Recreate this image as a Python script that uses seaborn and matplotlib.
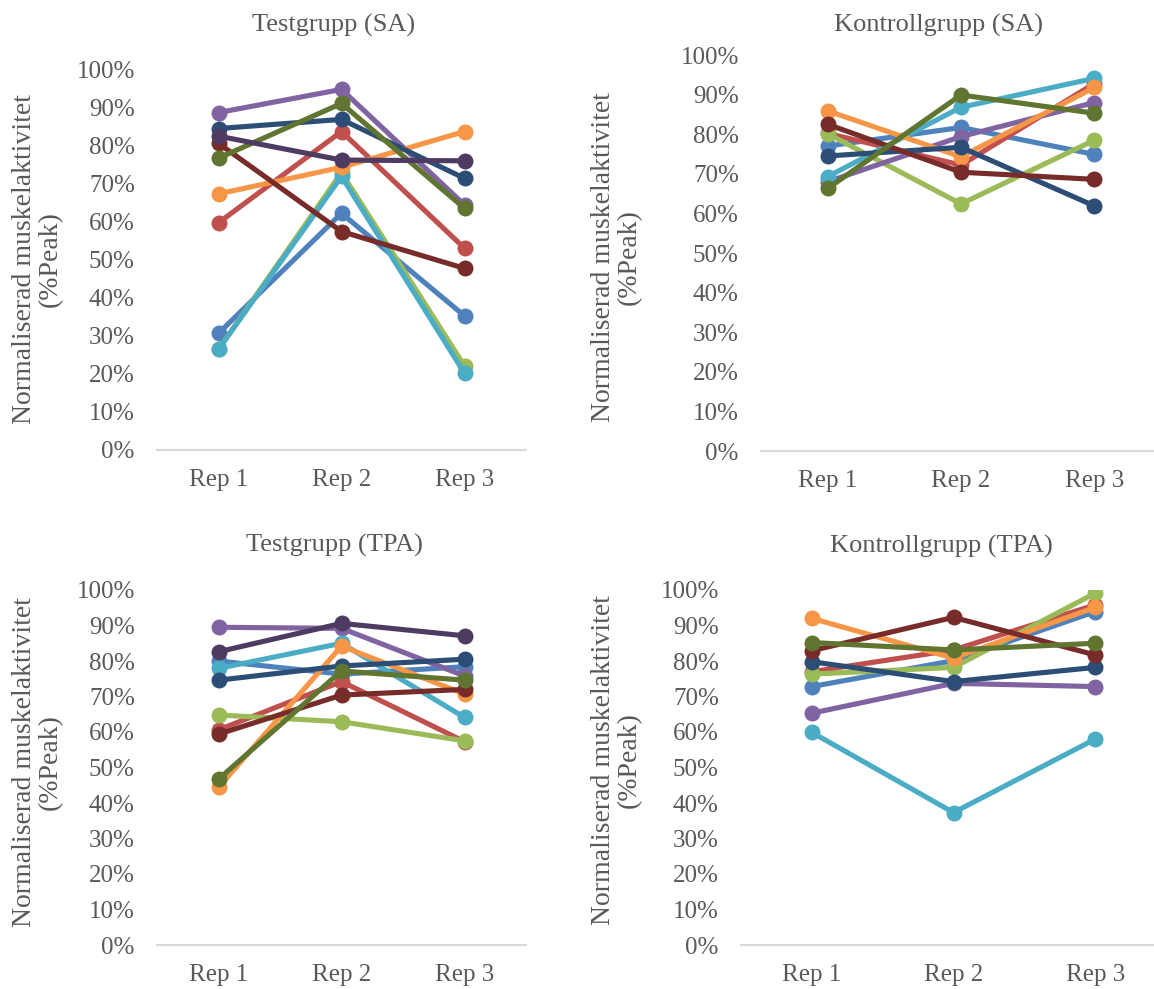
import matplotlib
matplotlib.use("Agg")
import matplotlib.pyplot as plt
from matplotlib.ticker import PercentFormatter, MultipleLocator
import seaborn as sns
import pandas as pd

# data (fractions of peak), one list per series: Rep 1, Rep 2, Rep 3
reps = ['Rep 1', 'Rep 2', 'Rep 3']
series_colors = ['#4F81BD', '#C0504D', '#9BBB59', '#8064A2', '#4BACC6',
                 '#F79646', '#2C4D75', '#772C2A', '#5F7530', '#4D3B62']

test_sa = [
    [0.307, 0.623, 0.353],
    [0.598, 0.838, 0.531],
    [0.265, 0.730, 0.221],
    [0.888, 0.949, 0.645],
    [0.265, 0.720, 0.202],
    [0.674, 0.744, 0.838],
    [0.846, 0.870, 0.715],
    [0.807, 0.575, 0.478],
    [0.768, 0.912, 0.636],
    [0.826, 0.763, 0.761],
]
kontroll_sa = [
    [0.770, 0.817, 0.749],
    [0.802, 0.722, 0.928],
    [0.801, 0.624, 0.785],
    [0.680, 0.794, 0.880],
    [0.693, 0.868, 0.941],
    [0.859, 0.743, 0.918],
    [0.745, 0.767, 0.619],
    [0.825, 0.704, 0.686],
    [0.663, 0.899, 0.853],
]
test_tpa = [
    [0.800, 0.763, 0.784],
    [0.606, 0.742, 0.573],
    [0.648, 0.629, 0.575],
    [0.895, 0.892, 0.758],
    [0.779, 0.850, 0.641],
    [0.444, 0.842, 0.707],
    [0.746, 0.786, 0.805],
    [0.594, 0.704, 0.720],
    [0.467, 0.772, 0.746],
    [0.826, 0.906, 0.871],
]
kontroll_tpa = [
    [0.728, 0.801, 0.939],
    [0.770, 0.831, 0.958],
    [0.763, 0.782, 0.991],
    [0.653, 0.737, 0.728],
    [0.599, 0.373, 0.580],
    [0.920, 0.808, 0.951],
    [0.798, 0.742, 0.782],
    [0.829, 0.923, 0.817],
    [0.852, 0.831, 0.850],
]

titles = ['Testgrupp (SA)', 'Kontrollgrupp (SA)', 'Testgrupp (TPA)', 'Kontrollgrupp (TPA)']
ylabel = 'Normaliserad muskelaktivitet\n(%Peak)'

sns.set_style('white')
plt.rcParams['font.family'] = ['Liberation Serif', 'DejaVu Serif']
grey = '#595959'

W, H = 1154, 989
fig = plt.figure(figsize=(W / 100, H / 100), dpi=100)


def px_axes(x0, y0, x1, y1):
    return fig.add_axes([x0 / W, 1 - y1 / H, (x1 - x0) / W, (y1 - y0) / H])


def to_long(vals):
    rows = []
    for i, s in enumerate(vals):
        for r, v in zip(reps, s):
            rows.append({'Rep': r, 'Serie': f'S{i + 1}', 'Värde': v})
    return pd.DataFrame(rows)


panels = [
    (test_sa, (157, 70, 526, 450), (334, 25), (37, 259)),
    (kontroll_sa, (761, 55, 1161, 451), (939, 25), (616, 257)),
    (test_tpa, (157, 590, 526, 945), (334, 545), (37, 762)),
    (kontroll_tpa, (741, 590, 1166, 945), (941, 546), (616, 760)),
]

for (vals, box, tpos, ypos), title in zip(panels, titles):
    ax = px_axes(*box)
    df = to_long(vals)
    pal = series_colors[:len(vals)]
    sns.lineplot(data=df, x='Rep', y='Värde', hue='Serie', palette=pal,
                 marker='o', markersize=11.5, markeredgewidth=0, linewidth=3.7,
                 sort=False, legend=False, ax=ax)
    ax.set_xlim(-0.5, 2.5)
    ax.set_ylim(0, 1.0)
    ax.yaxis.set_major_locator(MultipleLocator(0.1))
    ax.yaxis.set_major_formatter(PercentFormatter(1.0, decimals=0))
    ax.set_xlabel('')
    ax.set_ylabel('')
    for s in ['top', 'right', 'left']:
        ax.spines[s].set_visible(False)
    ax.spines['bottom'].set_color('#D9D9D9')
    ax.spines['bottom'].set_linewidth(1.5)
    ax.tick_params(axis='y', length=0, pad=16, labelsize=18, labelcolor=grey)
    ax.tick_params(axis='x', length=0, pad=14, labelsize=18, labelcolor=grey)
    fig.text(tpos[0] / W, 1 - tpos[1] / H, title, ha='center', va='center',
             fontsize=19, color=grey)
    fig.text(ypos[0] / W, 1 - ypos[1] / H, ylabel, ha='center', va='center',
             rotation=90, fontsize=20, color=grey, linespacing=1.05)

fig.savefig('out.png', dpi=100)
